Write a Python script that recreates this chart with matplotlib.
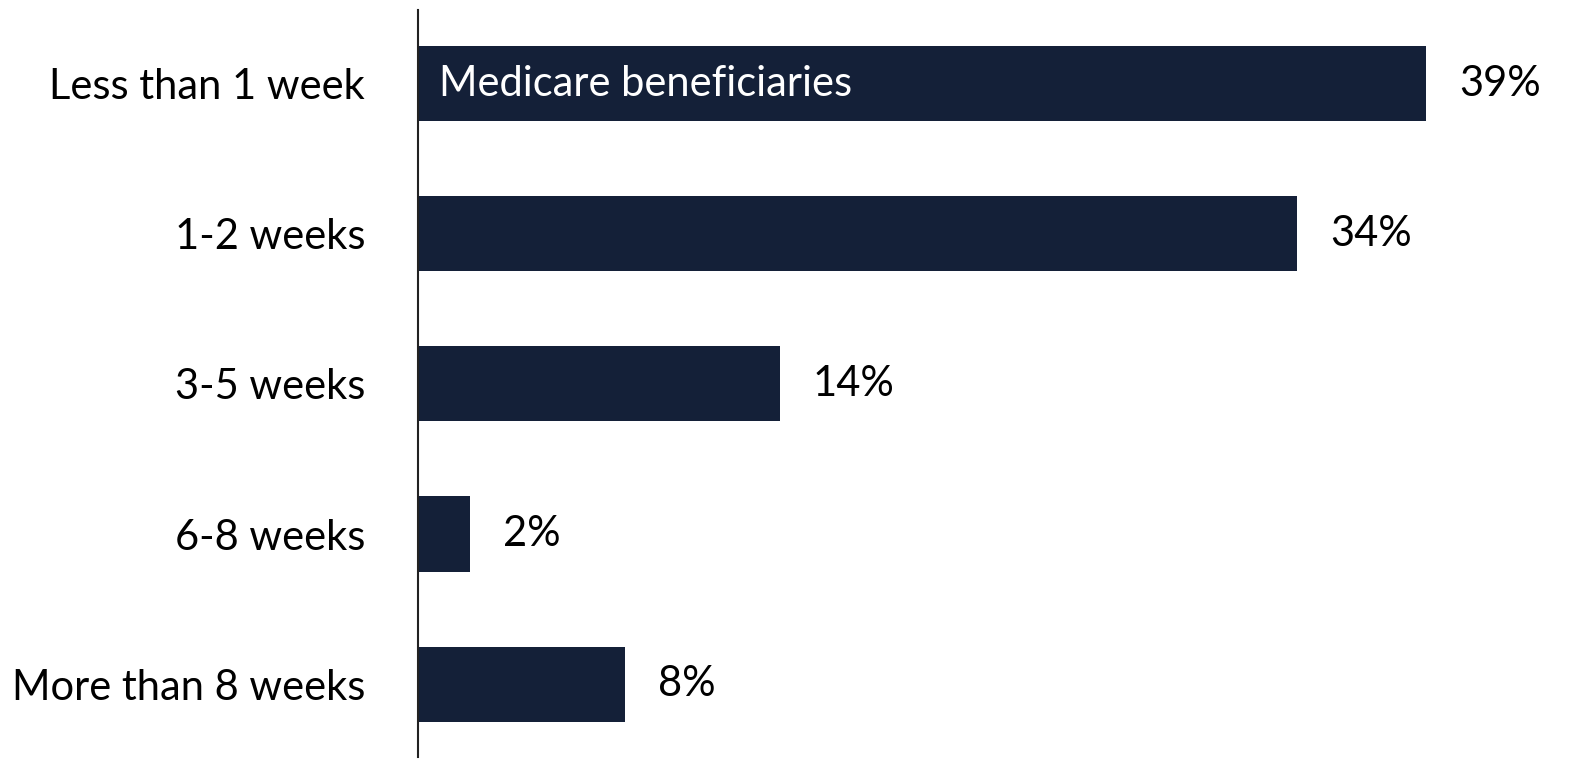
import matplotlib.pyplot as plt
from matplotlib.transforms import offset_copy

# Data
categories = ["Less than 1 week", "1-2 weeks", "3-5 weeks", "6-8 weeks", "More than 8 weeks"]
values = [39, 34, 14, 2, 8]
value_labels = ["39%", "34%", "14%", "2%", "8%"]
series_name = "Medicare beneficiaries"

bar_color = "#142038"
plt.rcParams['font.family'] = ['Lato', 'DejaVu Sans']
FS = 30

W, H = 1585, 765
fig = plt.figure(figsize=(W / 100, H / 100), dpi=100)

# axes placed in pixel terms: left edge at the axis line, spans to the right border
left, top, bottom = 418, 10, 757
ax = fig.add_axes([left / W, 1 - bottom / H, 1 - left / W, (bottom - top) / H])

px_per_pct = (1427 - 419) / 39.0
ax.set_xlim(0, (W - left) / px_per_pct)

y = list(range(len(categories)))
ax.barh(y, values, height=0.5, color=bar_color, edgecolor='none')
ax.set_ylim(4 + (757 - 684) / 150, -(84 - 10) / 150)

# value labels to the right of each bar
trans = offset_copy(ax.transData, fig=fig, x=33, y=0, units='dots')
for yi, v, lab in zip(y, values, value_labels):
    ax.text(v, yi, lab, transform=trans, ha='left', va='center', fontsize=FS, color='black')

# series name inside the first bar
trans_in = offset_copy(ax.transData, fig=fig, x=21, y=0, units='dots')
ax.text(0, 0, series_name, transform=trans_in, ha='left', va='center', fontsize=FS, color='white')

ax.set_yticks(y)
ax.set_yticklabels(categories, fontsize=FS)
ax.tick_params(axis='y', length=0, pad=38)
ax.set_xticks([])

for side in ['top', 'right', 'bottom']:
    ax.spines[side].set_visible(False)
ax.spines['left'].set_linewidth(1.5)
ax.spines['left'].set_color('#222222')

fig.savefig("out.png", dpi=100)
